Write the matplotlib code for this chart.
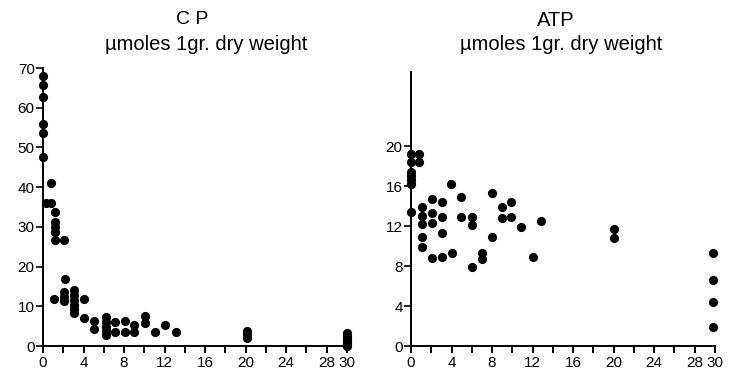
import matplotlib
matplotlib.use('Agg')
import matplotlib.pyplot as plt

# time axis ticks (minutes)
x_ticks = [0, 4, 8, 12, 16, 20, 24, 28, 30]
x_minor = [2, 6, 10, 14, 18, 22, 26]

# creatine phosphate
cp_t = [0, 0, 0, 0, 0, 0, 0.75, 0.25, 0.75,
        1.2, 1.2, 1.2, 1.2, 1.2, 1.1,
        2.1, 2.15, 2.1, 2.1, 2.1,
        3.1, 3.1, 3.1, 3.1, 3.1, 3.1,
        4.0, 4.0,
        5.0, 5.0,
        6.2, 6.2, 6.2, 6.2, 6.2,
        7.1, 7.1,
        8.1, 8.1,
        9.0, 9.0,
        10.1, 10.1,
        11.1, 12.0, 13.1,
        20.1, 20.1, 20.1,
        30, 30, 30, 30, 30, 30, 30]
cp_v = [68.0, 65.7, 62.8, 55.9, 53.7, 47.7, 41.0, 36.1, 36.1,
        33.8, 31.1, 30.0, 28.8, 26.7, 11.8,
        26.7, 16.9, 13.7, 12.4, 11.3,
        14.1, 12.8, 11.6, 10.3, 9.2, 8.2,
        11.8, 7.0,
        6.4, 4.2,
        7.2, 6.1, 4.9, 3.9, 2.8,
        6.1, 3.6,
        6.4, 3.4,
        5.3, 3.4,
        7.6, 5.7,
        3.4, 5.3, 3.4,
        3.8, 2.9, 2.0,
        3.3, 2.6, 2.0, 1.4, 0.8, 0.3, 0.0]

# adenosine triphosphate
atp_t = [0, 0, 0, 0, 0, 0, 0, 0.75, 0.75,
         1.05, 1.05, 1.05, 1.05, 1.05,
         2.07, 2.07, 2.07, 2.07,
         3.03, 3.03, 3.03, 3.03,
         4.0, 3.9,
         4.9, 4.9,
         6.0, 6.0, 6.0,
         7.0, 7.0,
         8.0, 8.0,
         9.0, 9.0,
         9.9, 9.9,
         10.9, 12.0, 12.8,
         20.0, 20.0,
         29.8, 29.8, 29.8, 29.8]
atp_v = [19.2, 18.4, 17.4, 17.0, 16.6, 16.2, 13.4, 19.2, 18.4,
         13.9, 13.0, 12.2, 10.9, 9.9,
         14.7, 13.3, 12.3, 8.8,
         14.4, 12.9, 11.3, 8.9,
         9.3, 16.2,
         14.9, 12.9,
         12.9, 12.1, 7.9,
         9.3, 8.7,
         10.9, 15.3,
         13.9, 12.8,
         14.4, 12.9,
         11.9, 8.9, 12.5,
         11.7, 10.8,
         9.3, 6.6, 4.4, 1.9]

plt.rcParams['font.family'] = ['Liberation Sans', 'DejaVu Sans']

W, H = 729, 374
fig = plt.figure(figsize=(W / 100, H / 100), dpi=100)


def px_axes(x0, y_top, x1, y_bot):
    return fig.add_axes([x0 / W, 1 - y_bot / H, (x1 - x0) / W, (y_bot - y_top) / H])


def style(ax, ymax, yticks):
    ax.set_xlim(0, 30)
    ax.set_ylim(0, ymax)
    for s in ['top', 'right']:
        ax.spines[s].set_visible(False)
    for s in ['left', 'bottom']:
        ax.spines[s].set_linewidth(1.4)
    ax.set_xticks(x_ticks)
    ax.set_xticks(x_minor, minor=True)
    ax.set_yticks(yticks)
    ax.tick_params(axis='x', which='both', direction='out', length=5, width=1.4, labelsize=11, pad=2)
    ax.tick_params(axis='y', direction='out', length=5, width=1.2, labelsize=11, pad=1)


ax1 = px_axes(43, 68, 347, 346)
ax1.plot(cp_t, cp_v, 'o', color='black', ms=5.6, clip_on=False)
style(ax1, 70, [0, 10, 20, 30, 40, 50, 60, 70])

ax2 = px_axes(411, 72, 715, 346)
ax2.plot(atp_t, atp_v, 'o', color='black', ms=5.6, clip_on=False)
style(ax2, 27.4, [0, 4, 8, 12, 16, 20])

fig.text(192 / W, 1 - 20 / H, 'C P', ha='center', va='center', fontsize=14)
fig.text(105 / W, 1 - 45 / H, 'µmoles 1gr. dry weight', ha='left', va='center', fontsize=14.5)
fig.text(556 / W, 1 - 20 / H, 'ATP', ha='center', va='center', fontsize=14.5)
fig.text(460 / W, 1 - 45 / H, 'µmoles 1gr. dry weight', ha='left', va='center', fontsize=14.5)

fig.savefig('out.png', dpi=100)
